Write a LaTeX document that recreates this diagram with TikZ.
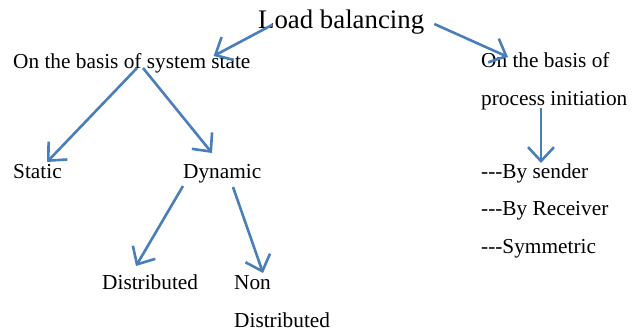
\documentclass[tikz,border=0pt]{standalone}
\usepackage{fontspec}
\setmainfont{Liberation Serif}
\usepackage{xcolor}
\usepackage{tikz}
\usetikzlibrary{arrows.meta}
\definecolor{arrowblue}{HTML}{4A7EBB}

\begin{document}
\begin{tikzpicture}[x=1pt,y=-1pt,
  every node/.style={inner sep=0pt,anchor=base west,align=left,font=\fontsize{21.3}{37.5}\selectfont},
  arr/.style={draw=arrowblue,line width=2.6pt,-{Straight Barb[length=14pt,width=26pt,line width=2.6pt]}}]
\useasboundingbox (0,0) rectangle (639,330);
\node[font=\fontsize{26.8}{32}\selectfont] (lb) at (258,28) {Load balancing};
\node (sysstate) at (13,68) {On the basis of system state};
\node (procinit) at (481,105) {On the basis of\\process initiation};
\node (static) at (13,178) {Static};
\node (dynamic) at (183,178) {Dynamic};
\node (initlist) at (481,253) {-{}-{}-By sender\\-{}-{}-By Receiver\\-{}-{}-Symmetric};
\node (distrib) at (102,289) {Distributed};
\node (nondistrib) at (234,327) {Non\\Distributed};
\draw[arr] ([shift={(14,-3)}]lb.base west) -- ([shift={(-37,-12)}]sysstate.base east);
\draw[arr] ([shift={(10,-4)}]lb.base east) -- ([shift={(27,-48)}]procinit.base west);
\draw[arr] ([shift={(124,0)}]sysstate.base west) -- ([shift={(34,-16)}]static.base west);
\draw[arr] ([shift={(130,0)}]sysstate.base west) -- ([shift={(29,-25)}]dynamic.base west);
\draw[arr] ([shift={(0,8)}]dynamic.base west) -- ([shift={(34,-23)}]distrib.base west);
\draw[arr] ([shift={(50,9)}]dynamic.base west) -- ([shift={(29,-54)}]nondistrib.base west);
\draw[arr] ([shift={(60,3)}]procinit.base west) -- ([shift={(60,-90)}]initlist.base west);
\end{tikzpicture}
\end{document}
